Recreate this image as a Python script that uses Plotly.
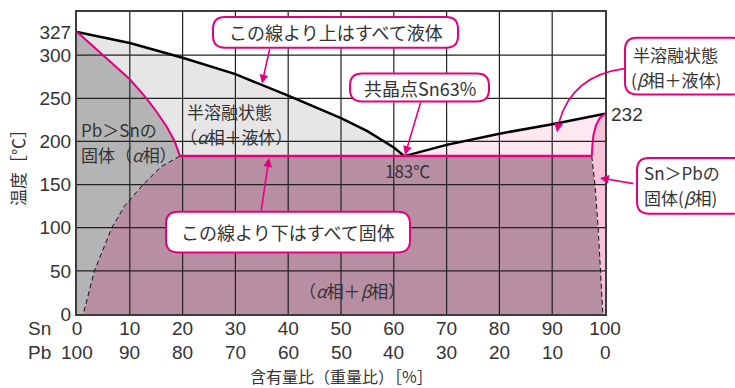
import plotly.graph_objects as go

# ---------------- data (Sn wt% , temperature degC) ----------------
liq_l_x = [0, 10, 20, 30, 40, 50, 55, 60, 62]
liq_l_y = [327, 314, 297, 278, 253, 227, 212, 193, 183]
liq_r_x = [62, 70, 80, 90, 100]
liq_r_y = [183, 196, 209, 220, 232]
sol_a_x = [0, 5, 10, 13, 15, 17, 18.5, 19.5]
sol_a_y = [327, 300, 272, 251, 235, 217, 200, 183]
solv_a_x = [19.5, 16, 12.5, 9, 6.6, 3.3, 1.2]
solv_a_y = [183, 171, 150, 125, 100, 50, 0]
sol_b_x = [100, 99.0, 98.3, 97.8, 97.6, 97.5]
sol_b_y = [232, 227, 219, 207, 195, 183]
solv_b_x = [97.5, 98.1, 98.7, 99.2, 99.6]
solv_b_y = [183, 150, 100, 50, 0]
eut_x = [19.5, 97.5]
eut_y = [183, 183]

sn_ticks = [0, 10, 20, 30, 40, 50, 60, 70, 80, 90, 100]
pb_labels = ["100", "90", "80", "70", "60", "50", "40", "30", "20", "10", "0"]
y_ticks = [0, 50, 100, 150, 200, 250, 300, 327]
grid_x = [10, 20, 30, 40, 50, 60, 70, 80, 90]
grid_y = [50, 100, 150, 200, 250, 300]

# ---------------- styling ----------------
FONT = "Noto Sans CJK JP"
NUMFONT = "Liberation Sans"
TXT = "#333333"
MAG = "#e4007f"
C_LGRAY = "#e6e6e6"
C_DGRAY = "#b4b4b4"
C_MAUVE = "#b88ea3"
C_LPINK = "#fde7f0"
C_PINK = "#f6c3d8"

W, H = 735, 388
ML, MR, MT, MB = 77, 130, 10, 74
PW, PH = W - ML - MR, H - MT - MB


def px(x):
    return (x - ML) / PW


def py(y):
    return (H - MB - y) / PH


fig = go.Figure()


def fill(xs, ys, color):
    fig.add_trace(go.Scatter(x=xs, y=ys, mode="lines", fill="toself",
                             fillcolor=color, line=dict(width=0),
                             hoverinfo="skip", showlegend=False))


# regions
fill(liq_l_x + sol_a_x[::-1], liq_l_y + sol_a_y[::-1], C_LGRAY)
fill(sol_a_x + solv_a_x[1:] + [0], sol_a_y + solv_a_y[1:] + [0], C_DGRAY)
fill(solv_a_x + solv_b_x[::-1], solv_a_y + solv_b_y[::-1], C_MAUVE)
fill(liq_r_x + sol_b_x[1:], liq_r_y + sol_b_y[1:], C_LPINK)
fill(sol_b_x + solv_b_x[1:] + [100], sol_b_y + solv_b_y[1:] + [0], C_PINK)

# grid
gx, gy = [], []
for v in grid_x:
    gx += [v, v, None]
    gy += [0, 350, None]
for v in grid_y:
    gx += [0, 100, None]
    gy += [v, v, None]
fig.add_trace(go.Scatter(x=gx, y=gy, mode="lines",
                         line=dict(color="#222222", width=1.2),
                         hoverinfo="skip", showlegend=False))


def line(xs, ys, color, width, dash="solid"):
    fig.add_trace(go.Scatter(x=xs, y=ys, mode="lines",
                             line=dict(color=color, width=width, dash=dash),
                             hoverinfo="skip", showlegend=False))


line(solv_a_x, solv_a_y, "#111111", 1, "5px,3px")
line(solv_b_x, solv_b_y, "#111111", 1, "5px,3px")
line(liq_l_x, liq_l_y, "#000000", 2.5)
line(liq_r_x, liq_r_y, "#000000", 2.5)
line(sol_a_x, sol_a_y, MAG, 2)
line(sol_b_x, sol_b_y, MAG, 2)
line(eut_x, eut_y, MAG, 2.5)

# ---------------- annotations ----------------
anns = []


def text(x, y, s, size=18, xanchor="center", align="center", family=FONT):
    anns.append(dict(xref="paper", yref="paper", x=px(x), y=py(y), text=s,
                     showarrow=False, xanchor=xanchor, yanchor="middle",
                     align=align,
                     font=dict(family=family, size=size, color=TXT)))


def arrow(tx, ty, sx, sy):
    anns.append(dict(xref="paper", yref="paper", x=px(tx), y=py(ty), text="",
                     showarrow=True, ax=sx - tx, ay=sy - ty,
                     arrowhead=2, arrowsize=1.1, arrowwidth=1.6,
                     arrowcolor=MAG))


shapes = []


def rbox(x0, y0, x1, y1, r=12):
    def P(x, y):
        return f"{px(x):.5f},{py(y):.5f}"
    path = (f"M {P(x0 + r, y0)} L {P(x1 - r, y0)} Q {P(x1, y0)} {P(x1, y0 + r)} "
            f"L {P(x1, y1 - r)} Q {P(x1, y1)} {P(x1 - r, y1)} "
            f"L {P(x0 + r, y1)} Q {P(x0, y1)} {P(x0, y1 - r)} "
            f"L {P(x0, y0 + r)} Q {P(x0, y0)} {P(x0 + r, y0)} Z")
    shapes.append(dict(type="path", xref="paper", yref="paper", path=path,
                       fillcolor="white", line=dict(color=MAG, width=2),
                       layer="above"))


# callout boxes
rbox(213, 15, 458, 46)
text(335.5, 30.5, "この線より上はすべて液体")
arrow(262, 82, 270, 46)

rbox(350, 72, 489, 100)
text(419.5, 86, "共晶点Sn63%")
arrow(405, 154, 421, 100)

rbox(166, 211, 410, 252)
text(288, 231, "この線より下はすべて固体")
arrow(269, 157, 261, 211)

rbox(625, 36, 745, 93)
text(631, 53, "半溶融状態", size=17, xanchor="left")
text(629, 78, "(<i>β</i>相＋液体)", size=17, xanchor="left")
shapes.append(dict(type="path", xref="paper", yref="paper",
                   path=f"M {px(624):.5f},{py(67):.5f} Q {px(572):.5f},{py(74):.5f} {px(559):.5f},{py(121):.5f}",
                   line=dict(color=MAG, width=1.6), layer="above"))
arrow(557, 131, 559, 120)

rbox(637, 157, 745, 213)
text(642, 172, "Sn＞Pbの", size=17, xanchor="left")
text(642, 197, "固体(<i>β</i>相)", size=17, xanchor="left")
arrow(600, 177, 635, 183)

# region labels
text(79, 128, "Pb＞Snの", size=17, xanchor="left")
text(79, 153, "固体（<i>α</i>相）", size=17, xanchor="left")
text(229, 110, "半溶融状態", size=17)
text(236, 135, "（<i>α</i>相＋液体）", size=17)
text(407, 170, "183℃", size=17)
text(609, 113, "232", size=19, xanchor="left", family=NUMFONT)
text(352, 290, "（<i>α</i>相＋<i>β</i>相）", size=17)

# axis decorations
text(39, 329, "Sn", size=19, family=NUMFONT)
text(39, 353, "Pb", size=19, family=NUMFONT)
for xv, lab in zip(sn_ticks, pb_labels):
    anns.append(dict(xref="x", yref="paper", x=xv, y=py(353), text=lab,
                     showarrow=False, xanchor="center", yanchor="middle",
                     font=dict(family=NUMFONT, size=19, color=TXT)))
text(341, 376.5, "含有量比（重量比）［%］", size=16)
anns.append(dict(xref="paper", yref="paper", x=px(18), y=py(163),
                 text="温度［℃］", textangle=-90, showarrow=False,
                 xanchor="center", yanchor="middle",
                 font=dict(family=FONT, size=17, color=TXT)))

fig.update_layout(
    width=W, height=H,
    margin=dict(l=ML, r=MR, t=MT, b=MB, pad=0),
    paper_bgcolor="white", plot_bgcolor="white",
    showlegend=False,
    annotations=anns, shapes=shapes,
    font=dict(family=FONT, size=18, color=TXT),
)
fig.update_xaxes(range=[0, 100], tickvals=sn_ticks,
                 ticktext=[str(v) for v in sn_ticks],
                 showgrid=False, zeroline=False, ticks="",
                 ticklabelstandoff=-4,
                 showline=True, mirror=True, linecolor="#3c3c3c", linewidth=2,
                 tickfont=dict(family=NUMFONT, size=19, color=TXT),
                 fixedrange=True)
fig.update_yaxes(range=[0, 350], tickvals=y_ticks,
                 ticktext=[str(v) for v in y_ticks],
                 showgrid=False, zeroline=False, ticks="",
                 showline=True, mirror=True, linecolor="#3c3c3c", linewidth=2,
                 tickfont=dict(family=NUMFONT, size=19, color=TXT),
                 fixedrange=True)

fig.write_html("out.html", config=dict(displayModeBar=False))
